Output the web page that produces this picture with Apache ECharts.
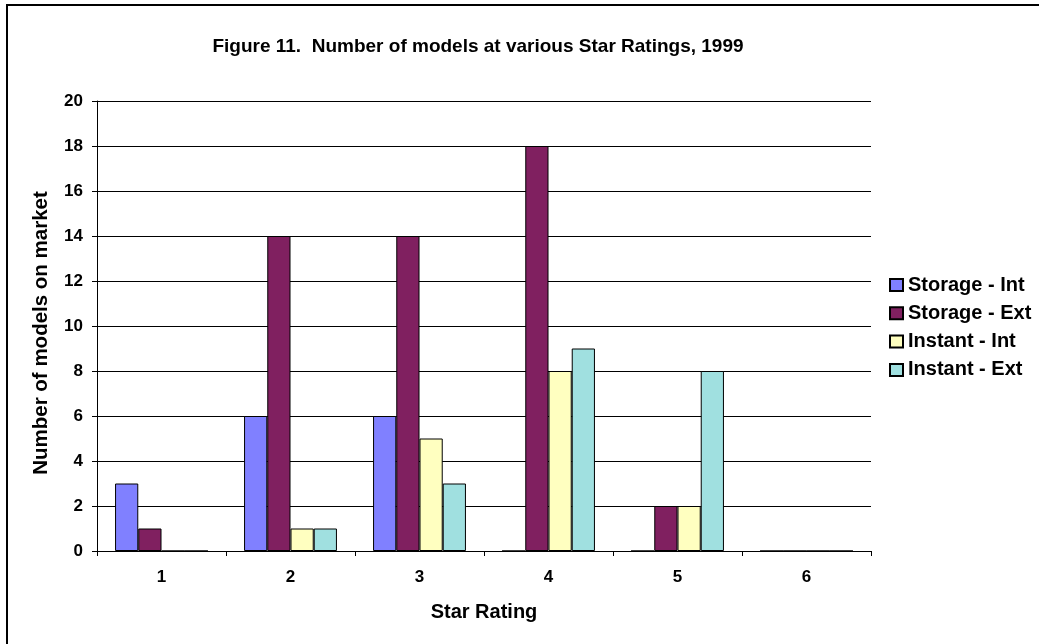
<!DOCTYPE html>
<html>
<head>
<meta charset="utf-8">
<script src="https://cdn.jsdelivr.net/npm/echarts@6/dist/echarts.min.js"></script>
<style>
  html, body { margin: 0; padding: 0; background: #fff; }
  #chart { width: 1039px; height: 644px; }
</style>
</head>
<body>
<div id="chart"></div>
<script>
// Star rating categories and model counts per water-heater type
const starRatings = ['1', '2', '3', '4', '5', '6'];
const storageInt = [3, 6, 6, 0, 0, 0];
const storageExt = [1, 14, 14, 18, 2, 0];
const instantInt = [0, 1, 5, 8, 2, 0];
const instantExt = [0, 1, 3, 9, 8, 0];
const seriesNames = ['Storage - Int', 'Storage - Ext', 'Instant - Int', 'Instant - Ext'];
const seriesColors = ['#8080FF', '#802060', '#FFFFC0', '#A0E0E0'];

const FONT = '"Liberation Sans", Arial, sans-serif';
const chart = echarts.init(document.getElementById('chart'), null, { renderer: 'canvas' });

const values = [storageInt, storageExt, instantInt, instantExt];

chart.setOption({
  animation: false,
  backgroundColor: '#fff',
  title: {
    text: 'Figure 11.  Number of models at various Star Ratings, 1999',
    left: 473,
    textAlign: 'center',
    top: 32,
    textStyle: { fontFamily: FONT, fontSize: 19, fontWeight: 'bold', color: '#000' }
  },
  graphic: [{
    type: 'rect',
    shape: { x: 7, y: 5, width: 1100, height: 700 },
    style: { fill: 'none', stroke: '#000', lineWidth: 2 },
    silent: true
  }],
  legend: {
    orient: 'vertical',
    left: 889,
    top: 275,
    padding: 0,
    itemWidth: 13,
    itemHeight: 12,
    itemGap: 8.3,
    icon: 'rect',
    textStyle: { fontFamily: FONT, fontSize: 20, fontWeight: 'bold', color: '#000' },
    data: seriesNames
  },
  grid: { left: 97, right: 168, top: 101, bottom: 93, containLabel: false },
  xAxis: {
    type: 'category',
    data: starRatings,
    name: 'Star Rating',
    nameLocation: 'middle',
    nameGap: 51,
    nameTextStyle: { fontFamily: FONT, fontSize: 20, fontWeight: 'bold', color: '#000' },
    axisLine: { lineStyle: { color: '#000', width: 1 } },
    axisTick: { show: true, length: 5, lineStyle: { color: '#000' } },
    axisLabel: { fontFamily: FONT, fontSize: 17, fontWeight: 'bold', color: '#000', margin: 18 }
  },
  yAxis: {
    type: 'value',
    min: 0,
    max: 20,
    interval: 2,
    name: 'Number of models on market',
    nameLocation: 'middle',
    nameGap: 45,
    nameTextStyle: { fontFamily: FONT, fontSize: 20.5, fontWeight: 'bold', color: '#000', padding: [0, 14, 0, 0] },
    axisLine: { show: true, lineStyle: { color: '#000', width: 1 } },
    axisTick: { show: true, length: 5, lineStyle: { color: '#000' } },
    axisLabel: { fontFamily: FONT, fontSize: 17, fontWeight: 'bold', color: '#000', margin: 14 },
    splitLine: { show: true, lineStyle: { color: '#000', width: 1 } }
  },
  series: seriesNames.map((name, i) => ({
    name: name,
    type: 'bar',
    data: values[i],
    barGap: '0%',
    barCategoryGap: '28%',
    itemStyle: { color: seriesColors[i], borderColor: '#000', borderWidth: 1 }
  }))
});
</script>
</body>
</html>
